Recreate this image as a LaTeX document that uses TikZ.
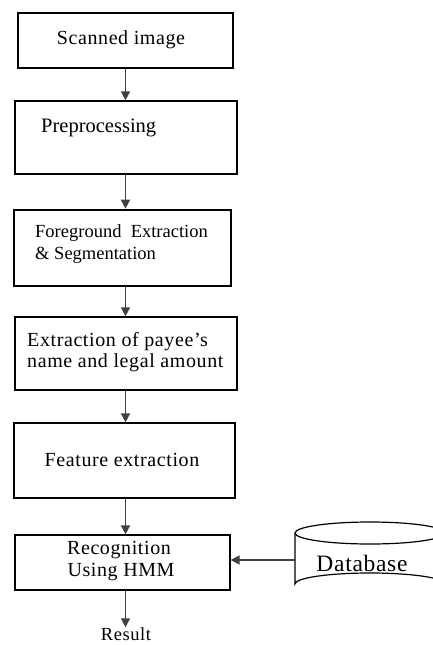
\documentclass[tikz,border=0pt]{standalone}
\usepackage{fontspec}
\setmainfont{Liberation Serif}
\newfontfamily\pxfont[LetterSpace=3]{Liberation Serif}
\usetikzlibrary{arrows.meta}
\begin{document}
\begin{tikzpicture}[x=1pt,y=-1pt,
  box/.style={draw=black,line width=1.2pt,rectangle,inner sep=0pt},
  txt/.style={inner sep=0pt,font=\pxfont\fontsize{20}{24}\selectfont},
  arr/.style={draw=black!75,line width=1.5pt,-{Triangle[length=9pt,width=9pt]}}]
\useasboundingbox (0,0) rectangle (433,645);
\clip (0,0) rectangle (433,645);
% boxes
\node[box,minimum width=215pt,minimum height=55pt] (b1) at (125.5,40.5) {};
\node[box,minimum width=222pt,minimum height=73pt] (b2) at (126,137.5) {};
\node[box,line width=2.6pt,minimum width=217pt,minimum height=76pt] (b3) at (122.5,248) {};
\node[box,minimum width=222pt,minimum height=73pt] (b4) at (126,353.5) {};
\node[box,minimum width=221pt,minimum height=75pt] (b5) at (124.5,460.5) {};
\node[box,minimum width=215pt,minimum height=55pt] (b6) at (122.5,562.5) {};
% texts
\node[txt] (t1) at (121,40) {Scanned image};
\node[txt,anchor=west,font=\fontsize{20.5}{24}\selectfont] (t2) at (41,128) {Preprocessing};
\node[txt,anchor=west,font=\fontsize{18.5}{22}\selectfont] (t3a) at (35,233) {Foreground\ \ Extraction};
\node[txt,anchor=west,font=\fontsize{18.5}{22}\selectfont] (t3b) at (35,255) {\& Segmentation};
\node[txt,anchor=west] (t4a) at (27,342) {Extraction of payee’s};
\node[txt,anchor=west] (t4b) at (27,363) {name and legal amount};
\node[txt] (t5) at (122,460) {Feature extraction};
\node[txt] (t6a) at (119,550) {Recognition};
\node[txt] (t6b) at (121,572) {Using HMM};
\node[txt,font=\pxfont\fontsize{18.5}{22}\selectfont] (res) at (126,634) {Result};
% database cylinder
\draw[line width=1.2pt] (295,533) -- (295,584) arc[start angle=180,end angle=360,x radius=75,y radius=11] -- (445,533);
\draw[line width=1.2pt] (370,533) ellipse[x radius=75,y radius=11];
\node[txt,font=\pxfont\fontsize{23.5}{28}\selectfont] (db) at (362,563) {Database};
\coordinate (dbl) at (295,560);
% arrows
\draw[arr] (b1.south) -- (b1.south |- b2.north);
\draw[arr] (b2.south -| b1.south) -- (b1.south |- b3.north);
\draw[arr] (b3.south -| b1.south) -- (b1.south |- b4.north);
\draw[arr] (b4.south -| b1.south) -- (b1.south |- b5.north);
\draw[arr] (b5.south -| b1.south) -- (b1.south |- b6.north);
\draw[arr] (b6.south -| b1.south) -- (b1.south |- res.north);
\draw[arr] (dbl) -- (dbl -| b6.east);
\end{tikzpicture}
\end{document}
